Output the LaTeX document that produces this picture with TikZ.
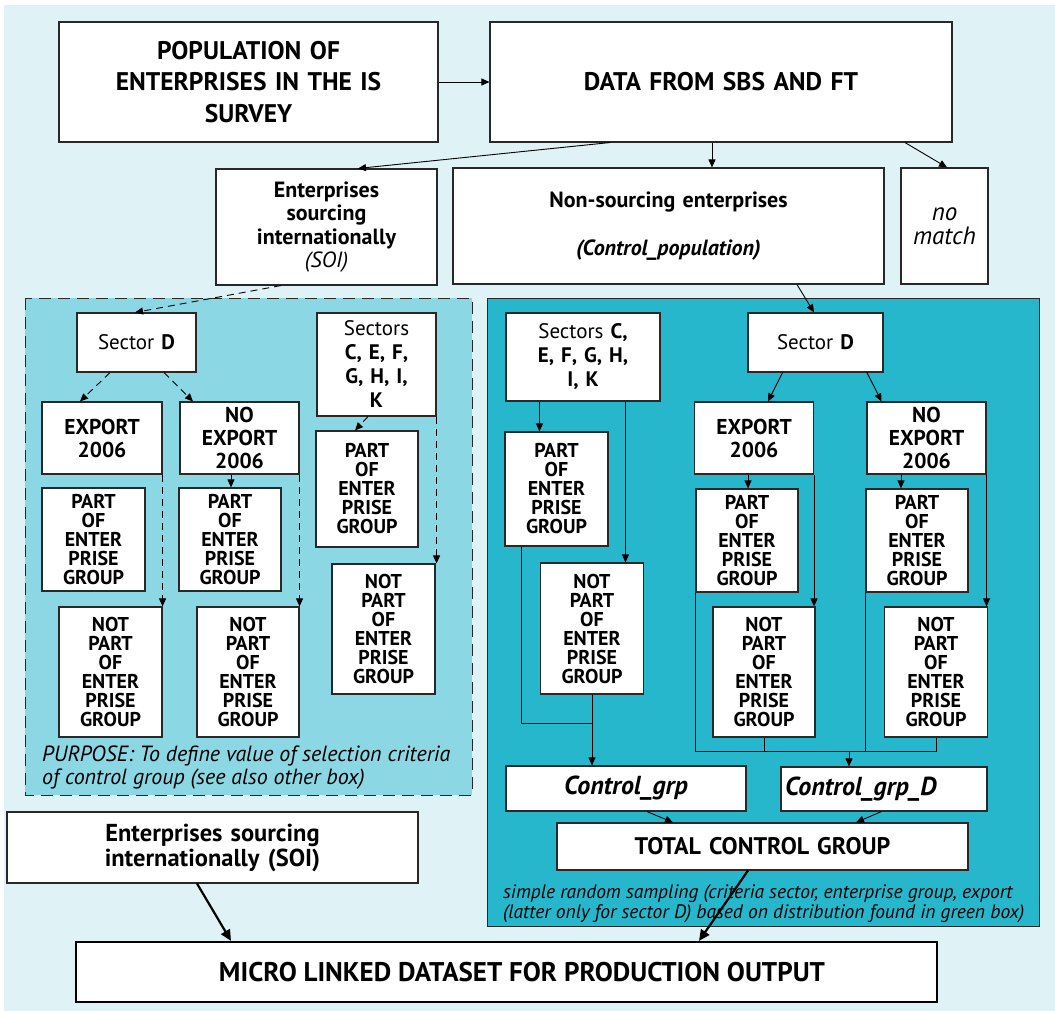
\documentclass[tikz,border=0pt]{standalone}
\usepackage{fontspec}
\setmainfont{PT Sans}
\usetikzlibrary{arrows.meta,calc}
\definecolor{pagebg}{RGB}{223,243,246}
\definecolor{lightpanel}{RGB}{139,216,228}
\definecolor{tealpanel}{RGB}{38,183,204}
\definecolor{edge}{RGB}{40,40,40}
\begin{document}
\begin{tikzpicture}[x=1pt,y=-1pt,
  bx/.style 2 args={draw=edge, line width=1.1pt, fill=white, minimum width=#1pt,
    minimum height=#2pt, text width=#1pt, inner sep=0pt, align=center},
  arr/.style={draw=black, line width=0.9pt, -{Triangle[length=8pt,width=7pt]}},
  darr/.style={arr, dash pattern=on 7pt off 5pt},
  bigarr/.style={draw=black, line width=2.2pt, -{Triangle[length=11pt,width=10pt]}},
  plain/.style={draw=black, line width=0.9pt},
  ftitle/.style={font=\fontsize{25.5}{31.5}\selectfont\bfseries},
  fmid/.style={font=\fontsize{22}{23.5}\selectfont\bfseries},
  fexp/.style={font=\fontsize{21.5}{23}\selectfont\bfseries},
  fsec/.style={font=\fontsize{21}{24}\selectfont},
  fpart/.style={font=\fontsize{20}{19}\selectfont\bfseries},
  fgrp/.style={font=\fontsize{26}{28}\selectfont\bfseries\itshape},
  fnote/.style={font=\fontsize{22}{23}\selectfont\itshape},
  fsamp/.style={font=\fontsize{19.5}{20}\selectfont\itshape}
]
\useasboundingbox (0,0) rectangle (1055,1011);
% page
\fill[white] (0,0) rectangle (1055,1011);
\fill[pagebg] (4,5) rectangle (1055,1011);
% panels
\filldraw[fill=lightpanel, draw=edge, line width=1pt, dash pattern=on 12pt off 7pt]
  (25,298) rectangle (472,795);
\filldraw[fill=tealpanel, draw=edge, line width=1pt] (487,298) rectangle (1039,926);

% top row
\node[bx={379}{120}, ftitle] (pop) at (248.5,82) {POPULATION OF\\ENTERPRISES IN THE IS\\SURVEY};
\node[bx={462}{120}, ftitle] (data) at (721,82) {DATA FROM SBS AND FT};

% second row
\node[bx={221}{116}, fmid] (soi) at (326.5,227)
  {Enterprises\\sourcing\\internationally\\{\mdseries\itshape (SOI)}};
\node[bx={431}{116}, font=\fontsize{22}{24}\selectfont\bfseries] (nons) at (668.5,226)
  {Non-sourcing enterprises\\[24pt]{\itshape (Control\_population)}};
\node[bx={87}{116}, font=\fontsize{25}{24}\selectfont\itshape] (nomatch) at (944.5,226) {no\\match};

% left panel
\node[bx={119}{59}, fsec] (sdL) at (136.5,342.5) {Sector \textbf{D}};
\node[bx={119}{103}, fsec] (secL) at (376.5,364.5)
  {Sectors\\\textbf{C, E, F,}\\\textbf{G, H, I,}\\\textbf{K}};
\node[bx={120}{72}, fexp] (expL) at (102,438) {EXPORT\\2006};
\node[bx={119}{72}, fexp] (nexpL) at (239.5,438) {NO\\EXPORT\\2006};
\node[bx={103}{103}, fpart] (partL1) at (93.5,539.5) {PART\\OF\\ENTER\\PRISE\\GROUP};
\node[bx={102}{103}, fpart] (partL2) at (230,539.5) {PART\\OF\\ENTER\\PRISE\\GROUP};
\node[bx={102}{116}, fpart] (partL3) at (367,489) {PART\\OF\\ENTER\\PRISE\\GROUP};
\node[bx={103}{130}, fpart] (notL1) at (110.5,672) {NOT\\PART\\OF\\ENTER\\PRISE\\GROUP};
\node[bx={102}{130}, fpart] (notL2) at (248,672) {NOT\\PART\\OF\\ENTER\\PRISE\\GROUP};
\node[bx={103}{130}, fpart] (notL3) at (383.5,629) {NOT\\PART\\OF\\ENTER\\PRISE\\GROUP};
\node[anchor=west, align=left, inner sep=0pt, fnote] (purpose) at (42,768)
  {PURPOSE: To define value of selection criteria\\of control group (see also other box)};

% right panel
\node[bx={154}{88}, fsec] (secR) at (583,357)
  {Sectors \textbf{C,}\\\textbf{E, F, G, H,}\\\textbf{I, K}};
\node[bx={135}{59}, fsec] (sdR) at (815.5,342.5) {Sector \textbf{D}};
\node[bx={119}{72}, fexp] (expR) at (754,438) {EXPORT\\2006};
\node[bx={119}{72}, fexp] (nexpR) at (926.5,438) {NO\\EXPORT\\2006};
\node[bx={103}{114}, fpart] (partR1) at (556.5,489) {PART\\OF\\ENTER\\PRISE\\GROUP};
\node[bx={103}{131}, fpart] (notR1) at (592,628.5) {NOT\\PART\\OF\\ENTER\\PRISE\\GROUP};
\node[bx={102}{103}, fpart] (partR2) at (747,540.5) {PART\\OF\\ENTER\\PRISE\\GROUP};
\node[bx={102}{130}, fpart] (notR2) at (764,672) {NOT\\PART\\OF\\ENTER\\PRISE\\GROUP};
\node[bx={102}{103}, fpart] (partR3) at (917,540.5) {PART\\OF\\ENTER\\PRISE\\GROUP};
\node[bx={103}{130}, fpart] (notR3) at (936,672) {NOT\\PART\\OF\\ENTER\\PRISE\\GROUP};
\node[bx={240}{45}, fgrp] (cg) at (626,788.5) {Control\_grp};
\node[draw=edge, line width=1.1pt, fill=white, minimum width=206pt, minimum height=44pt,
  inner sep=0pt] (cgd) at (884,789) {};
\node[anchor=west, inner sep=0pt, fgrp] (cgdtext) at (785,789) {Control\_grp\_D};
\node[bx={411}{47}, font=\fontsize{24}{26}\selectfont\bfseries] (total) at (762.5,846.5) {TOTAL CONTROL GROUP};
\node[anchor=west, align=left, inner sep=0pt, fsamp] (sampling) at (503,904)
  {simple random sampling (criteria sector, enterprise group, export\\(latter only for sector D) based on distribution found in green box)};

% bottom
\node[bx={411}{71}, font=\fontsize{24.5}{25}\selectfont\bfseries] (soiB) at (212.5,847.5)
  {Enterprises sourcing\\internationally (SOI)};
\node[draw=black, line width=2.2pt, fill=white, minimum width=861pt, minimum height=60pt,
  inner sep=0pt] (micro) at (506.5,972) {};
\node[inner sep=0pt, font=\fontsize{27}{28}\selectfont\bfseries] (microtext) at (522,972)
  {MICRO LINKED DATASET FOR PRODUCTION OUTPUT};

% ---- connectors: top
\draw[arr] (pop.east) -- (data.west);
\draw[arr] ([xshift=-111pt]data.south) -- ([xshift=31.5pt]soi.north);
\draw[arr] ([xshift=-9pt]data.south) -- ([xshift=43.5pt]nons.north);
\draw[arr] ([xshift=184pt]data.south) -- ([xshift=2.5pt]nomatch.north);

% ---- connectors: left panel (dashed)
\draw[darr] ([xshift=-45.5pt]soi.south) -- ([xshift=-1.5pt]sdL.north);
\draw[darr] ([xshift=-26.5pt]sdL.south) -- ([xshift=-22pt]expL.north);
\draw[darr] ([xshift=27.5pt]sdL.south) -- ([xshift=-46.5pt]nexpL.north);
\draw[darr] (expL.south east) -- (expL.south east |- notL1.north);
\draw[darr] (nexpL.south east) -- (nexpL.south east |- notL2.north);
\coordinate (nL) at ([xshift=-8.5pt]nexpL.south);
\draw[arr] (nL) -- (nL |- partL2.north);
\draw[darr] ([xshift=-8.5pt]secL.south) -- ([xshift=-12pt]partL3.north);
\draw[darr] (secL.south east) -- (secL.south east |- notL3.north);

% ---- connectors: right panel
\draw[arr] ([xshift=128.5pt]nons.south) -- ([xshift=-1.5pt]sdR.north);
\draw[arr] ([xshift=-33pt]sdR.south) -- ([xshift=14pt]expR.north);
\draw[arr] ([xshift=51.5pt]sdR.south) -- ([xshift=-45pt]nexpR.north);
\coordinate (sR1) at ([xshift=34pt]secR.south west);
\coordinate (sR2) at ([xshift=120pt]secR.south west);
\draw[arr] (sR1) -- (sR1 |- partR1.north);
\draw[arr] (sR2) -- (sR2 |- notR1.north);
\coordinate (pR1) at ([xshift=17pt]partR1.south west);
\coordinate (j1) at ($(notR1.south)+(0,29)$);
\draw[plain] (pR1) |- (j1);
\draw[arr] (notR1.south) -- (notR1.south |- cg.north);
\coordinate (eR) at ([xshift=-6pt]expR.south);
\draw[arr] (eR) -- (eR |- partR2.north);
\draw[arr] (expR.south east) -- (expR.south east |- notR2.north);
\coordinate (nR) at ([xshift=-25.5pt]nexpR.south);
\draw[arr] (nR) -- (nR |- partR3.north);
\draw[arr] (nexpR.south east) -- (nexpR.south east |- notR3.north);
\coordinate (bus) at ($(cgd.north)+(-35,-15)$);
\draw[plain] (partR2.south west) -- (partR2.south west |- bus) -- (notR3.south |- bus) -- (notR3.south);
\draw[plain] (notR2.south) -- (notR2.south |- bus);
\draw[plain] (partR3.south west) -- (partR3.south west |- bus);
\draw[arr] (bus) -- (bus |- cgd.north);
\draw[arr] ([xshift=21pt]cg.south) -- ([xshift=-89.5pt]total.north);
\draw[arr] ([xshift=-2.5pt]cgd.south) -- ([xshift=93.5pt]total.north);

% ---- connectors: into the dataset
\draw[bigarr] ([xshift=-14.5pt]total.south) -- ([xshift=192.5pt]micro.north);
\draw[bigarr] ([xshift=-15.5pt]soiB.south) -- ([xshift=-275.5pt]micro.north);
\end{tikzpicture}
\end{document}
